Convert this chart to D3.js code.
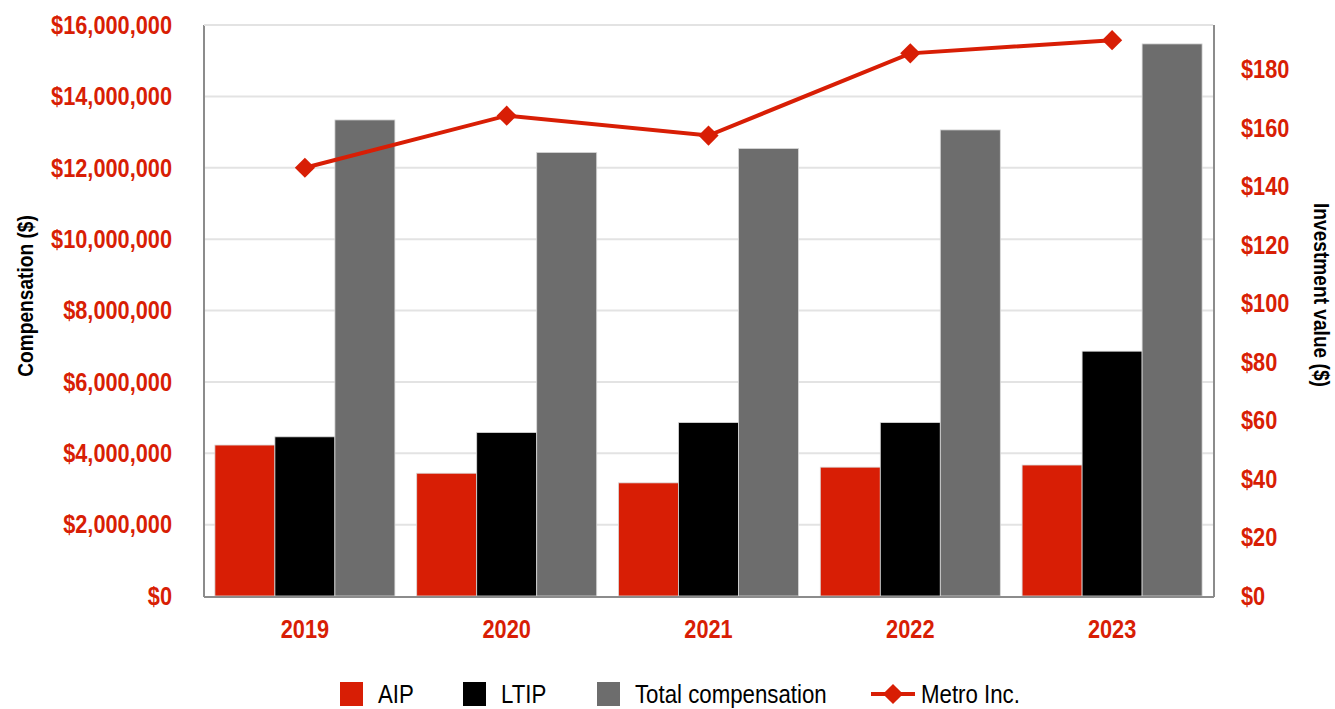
<!DOCTYPE html>
<html>
<head>
<meta charset="utf-8">
<script src="https://cdn.jsdelivr.net/npm/d3@7"></script>
<style>
  body { margin: 0; background: #fff; }
  svg text { font-family: "Liberation Sans Narrow", "Arial Narrow", "Liberation Sans", sans-serif; }
</style>
</head>
<body>
<svg id="chart" width="1335" height="709"></svg>
<script>
const years = ["2019", "2020", "2021", "2022", "2023"];
const aip = [4230000, 3440000, 3170000, 3610000, 3670000];
const ltip = [4460000, 4580000, 4860000, 4860000, 6860000];
const total = [13340000, 12430000, 12540000, 13060000, 15470000];
const metro = [146.4, 164.2, 157.4, 185.5, 190];
const leftTicks = [0, 2e6, 4e6, 6e6, 8e6, 10e6, 12e6, 14e6, 16e6];
const rightTicks = [0, 20, 40, 60, 80, 100, 120, 140, 160, 180];
const seriesNames = ["AIP", "LTIP", "Total compensation"];

const RED = "#d81e05", GRAY = "#6d6d6d";
const colors = { "AIP": RED, "LTIP": "#000", "Total compensation": GRAY };

const svg = d3.select("#chart");
const plotLeft = 204, plotRight = 1213, plotTop = 25, plotBottom = 596;
// no narrow font installed, so squeeze text horizontally
const NARROW = 0.87;

const x0 = d3.scaleBand().domain(years).range([plotLeft, plotRight])
  .paddingInner(0.108).paddingOuter(0.054);
const x1 = d3.scaleBand().domain(seriesNames).range([0, x0.bandwidth()]);
const y = d3.scaleLinear().domain([0, 16e6]).range([plotBottom, plotTop]);
const y2 = d3.scaleLinear().domain([0, 195.2]).range([plotBottom, plotTop]);

const fmtMoney = d => "$" + d3.format(",")(d);
const place = (x, yy, rot, sx) =>
  "translate(" + x + "," + yy + ")" + (rot ? " rotate(" + rot + ")" : "") + " scale(" + sx + ",1)";

// gridlines
svg.append("g")
  .selectAll("line")
  .data(leftTicks.slice(1))
  .join("line")
  .attr("x1", plotLeft).attr("x2", plotRight)
  .attr("y1", d => y(d)).attr("y2", d => y(d))
  .attr("stroke", "#e3e3e3").attr("stroke-width", 2);

// bars
const rows = years.map((yr, i) => ({ year: yr, values: [aip[i], ltip[i], total[i]] }));
svg.append("g")
  .selectAll("g")
  .data(rows)
  .join("g")
  .attr("transform", d => "translate(" + x0(d.year) + ",0)")
  .selectAll("rect")
  .data(d => d.values.map((v, k) => ({ key: seriesNames[k], value: v })))
  .join("rect")
  .attr("x", d => x1(d.key))
  .attr("width", x1.bandwidth())
  .attr("y", d => y(d.value))
  .attr("height", d => plotBottom - y(d.value))
  .attr("fill", d => colors[d.key])
  .attr("stroke", "#d9d9d9").attr("stroke-width", 0.8);

// axes lines
svg.append("line").attr("x1", plotLeft).attr("x2", plotLeft).attr("y1", plotTop).attr("y2", plotBottom + 1)
  .attr("stroke", "#8c8c8c").attr("stroke-width", 2);
svg.append("line").attr("x1", plotRight + 1).attr("x2", plotRight + 1).attr("y1", plotTop).attr("y2", plotBottom + 1)
  .attr("stroke", "#8c8c8c").attr("stroke-width", 2);
svg.append("line").attr("x1", plotLeft).attr("x2", plotRight + 1).attr("y1", plotBottom + 1).attr("y2", plotBottom + 1)
  .attr("stroke", "#8c8c8c").attr("stroke-width", 2);
svg.append("line").attr("x1", plotLeft).attr("x2", plotRight).attr("y1", plotTop).attr("y2", plotTop)
  .attr("stroke", "#e3e3e3").attr("stroke-width", 2);

// left tick labels
svg.append("g")
  .selectAll("text")
  .data(leftTicks)
  .join("text")
  .attr("transform", d => place(172, y(d), 0, NARROW))
  .attr("dy", "0.35em")
  .attr("text-anchor", "end")
  .attr("fill", RED)
  .attr("font-weight", "bold")
  .attr("font-size", 25)
  .text(fmtMoney);

// right tick labels
svg.append("g")
  .selectAll("text")
  .data(rightTicks)
  .join("text")
  .attr("transform", d => place(1241, y2(d), 0, NARROW))
  .attr("dy", "0.35em")
  .attr("fill", RED)
  .attr("font-weight", "bold")
  .attr("font-size", 25)
  .text(d => "$" + d);

// year labels
svg.append("g")
  .selectAll("text")
  .data(years)
  .join("text")
  .attr("transform", d => place(x0(d) + x0.bandwidth() / 2, 629, 0, NARROW))
  .attr("dy", "0.35em")
  .attr("text-anchor", "middle")
  .attr("fill", RED)
  .attr("font-weight", "bold")
  .attr("font-size", 25)
  .text(d => d);

// axis titles
svg.append("text")
  .attr("transform", place(33, 296, -90, NARROW))
  .attr("text-anchor", "middle")
  .attr("font-weight", "bold")
  .attr("font-size", 22)
  .text("Compensation ($)");
svg.append("text")
  .attr("transform", place(1314, 295, 90, NARROW))
  .attr("text-anchor", "middle")
  .attr("font-weight", "bold")
  .attr("font-size", 22)
  .text("Investment value ($)");

// Metro line
const cx = i => x0(years[i]) + x0.bandwidth() / 2;
svg.append("path")
  .datum(metro)
  .attr("fill", "none")
  .attr("stroke", RED)
  .attr("stroke-width", 4)
  .attr("d", d3.line().x((d, i) => cx(i)).y(d => y2(d)));
const diamond = d3.symbol().type(d3.symbolDiamond2).size(260);
svg.append("g")
  .selectAll("path")
  .data(metro)
  .join("path")
  .attr("transform", (d, i) => "translate(" + cx(i) + "," + y2(d) + ")")
  .attr("d", diamond)
  .attr("fill", RED);

// legend
const legY = 694;
const legend = [
  { name: "AIP", type: "rect", color: RED, x: 340 },
  { name: "LTIP", type: "rect", color: "#000", x: 463 },
  { name: "Total compensation", type: "rect", color: GRAY, x: 597 },
  { name: "Metro Inc.", type: "line", color: RED, x: 871 }
];
const lg = svg.append("g").selectAll("g").data(legend).join("g");
lg.filter(d => d.type === "rect").append("rect")
  .attr("x", d => d.x).attr("y", legY - 12)
  .attr("width", 23).attr("height", 24)
  .attr("fill", d => d.color);
lg.filter(d => d.type === "line").append("line")
  .attr("x1", d => d.x).attr("x2", d => d.x + 44)
  .attr("y1", legY).attr("y2", legY)
  .attr("stroke", RED).attr("stroke-width", 4);
lg.filter(d => d.type === "line").append("path")
  .attr("transform", d => "translate(" + (d.x + 22) + "," + legY + ")")
  .attr("d", diamond)
  .attr("fill", RED);
lg.append("text")
  .attr("transform", d => place(d.type === "rect" ? d.x + 38 : d.x + 50, legY, 0, 0.89))
  .attr("dy", "0.35em")
  .attr("font-size", 25)
  .attr("fill", "#000")
  .text(d => d.name);
</script>
</body>
</html>
